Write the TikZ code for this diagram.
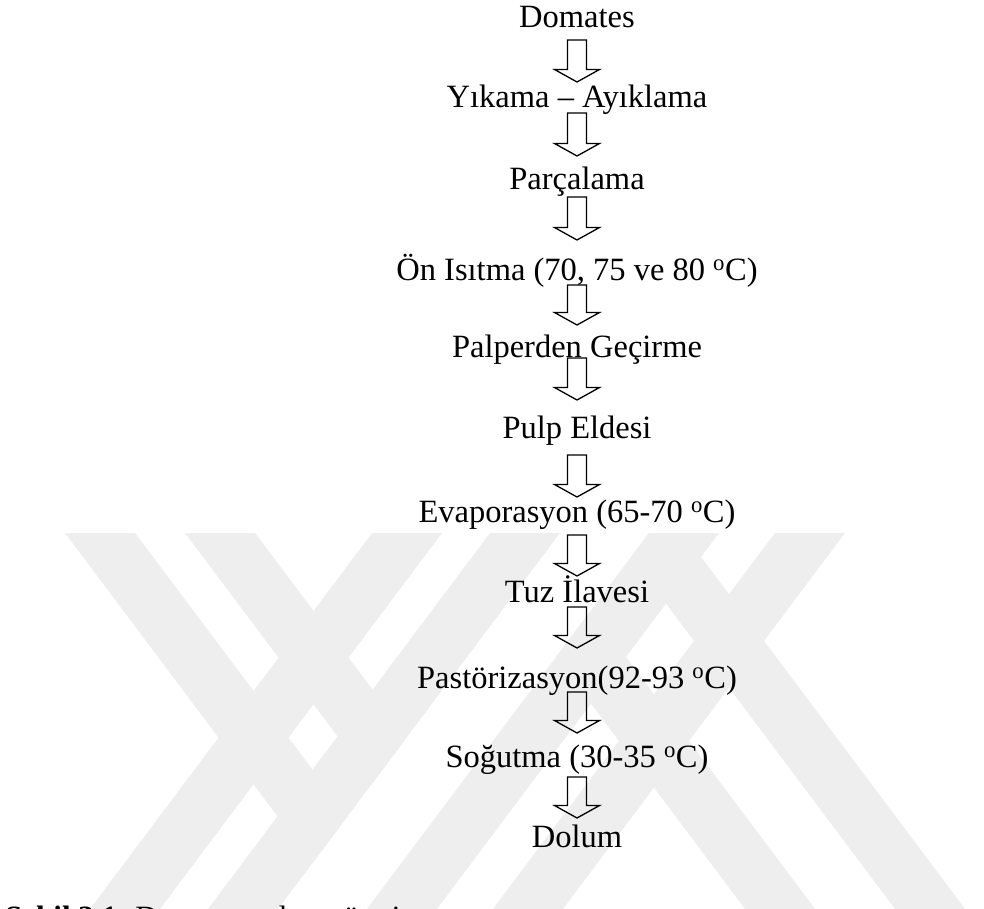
\documentclass[tikz,border=0pt]{standalone}
\usepackage{fontspec}
\setmainfont{Liberation Serif}
\usetikzlibrary{calc}

\definecolor{wmgrey}{RGB}{238,238,238}
\newcommand{\degC}{\textsuperscript{o}C}

% hollow block arrow from a named top point to a named tip point
\newcommand{\procarrow}[2]{%
  \draw[procarrowline]
    ($(#1)+(-9.5,0)$) -- ($(#2)+(-9.5,-12.5)$) -- ($(#2)+(-22.5,-12.5)$) -- (#2)
    -- ($(#2)+(22.5,-12.5)$) -- ($(#2)+(9.5,-12.5)$) -- ($(#1)+(9.5,0)$) -- cycle;}

% emblem stripes: rising ("/") given by bottom-left x, falling ("\") by top-left x
\newcommand{\risestripe}[1]{\fill[wmband] (#1+282,533) -- (#1+352,533) -- (#1+70,909) -- (#1,909) -- cycle;}
\newcommand{\fallstripe}[1]{\fill[wmband] (#1,533) -- (#1+70,533) -- (#1+352,909) -- (#1+282,909) -- cycle;}

\tikzset{
  steptext/.style={font=\fontsize{32.5}{38}\selectfont, inner sep=0pt, anchor=base},
  captext/.style={font=\fontsize{31}{36}\selectfont, inner sep=0pt, anchor=base west},
  procarrowline/.style={draw=black, line width=1.3pt, line join=miter},
  wmband/.style={fill=wmgrey, draw=none},
}

\begin{document}
\begin{tikzpicture}[x=1pt, y=-1pt]
\useasboundingbox (0,0) rectangle (984,909);

% background emblem: left letter
\risestripe{90}
\risestripe{208}
\begin{scope}
  \clip (0,533) -- (560,533) -- (278,909) -- (0,909) -- cycle;
  \fallstripe{65}
  \fallstripe{185}
\end{scope}
% background emblem: right letter
\risestripe{367}
\risestripe{493}
\begin{scope}
  \clip (649,533) -- (984,533) -- (984,909) -- (367,909) -- cycle;
  \fallstripe{463}
  \fallstripe{613}
\end{scope}

% process steps
\node[steptext] (s1)  at (577,28)  {Domates};
\node[steptext] (s2)  at (577,108) {Yıkama – Ayıklama};
\node[steptext] (s3)  at (577,190) {Parçalama};
\node[steptext] (s4)  at (577,280) {Ön Isıtma (70, 75 ve 80 \degC)};
\node[steptext] (s5)  at (577,357) {Palperden Geçirme};
\node[steptext] (s6)  at (577,438) {Pulp Eldesi};
\node[steptext] (s7)  at (577,522) {Evaporasyon (65-70 \degC)};
\node[steptext] (s8)  at (577,602) {Tuz İlavesi};
\node[steptext] (s9)  at (577,688) {Pastörizasyon(92-93 \degC)};
\node[steptext] (s10) at (577,767) {Soğutma (30-35 \degC)};
\node[steptext] (s11) at (577,847) {Dolum};

% arrow tops and tips
\foreach \i/\t/\p in {1/40/82, 2/113/156, 3/197/240, 4/285/325, 5/358/400,
                      6/455/497, 7/535/576, 8/607/648, 9/692/733, 10/777/818} {
  \coordinate (a\i top) at (577,\t);
  \coordinate (a\i tip) at (577,\p);
}
\foreach \i in {1,...,10}
  \procarrow{a\i top}{a\i tip};

% figure caption, running past the lower edge
\node[captext] (cap) at (5,927) {\textbf{Şekil 3.1.} Domates salçası üretim şeması};
\end{tikzpicture}
\end{document}
